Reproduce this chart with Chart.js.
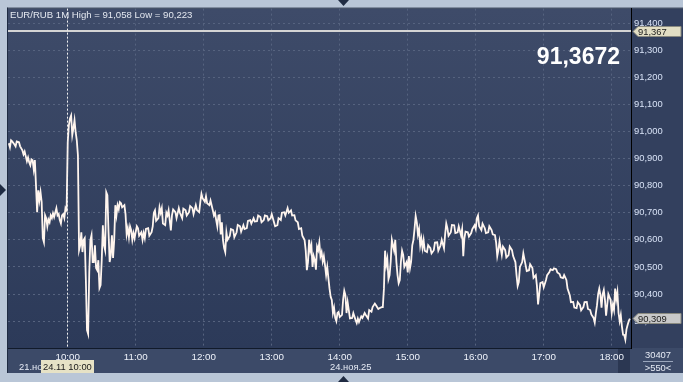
<!DOCTYPE html>
<html><head><meta charset="utf-8">
<script src="https://cdn.jsdelivr.net/npm/chart.js@4/dist/chart.umd.min.js"></script>
<style>html,body{margin:0;padding:0;background:#b9c6d7;overflow:hidden}#wrap{position:relative;width:683px;height:382px}</style>
</head><body><div id="wrap"><canvas id="c" width="683" height="382"></canvas></div>
<script>
const times = [
"09:08","09:09","09:10","09:11","09:13","09:14","09:15","09:17","09:18","09:20","09:21","09:22","09:23","09:24","09:25","09:26","09:27","09:28","09:29","09:30","09:31","09:32","09:33","09:34","09:35","09:36","09:37","09:38","09:39","09:40","09:41","09:42","09:43","09:44","09:45","09:46","09:47","09:48","09:50","09:51","09:52","09:53","09:54","09:55","09:56","09:57","09:58","09:59",
"10:00","10:01","10:02","10:03","10:04","10:05","10:06","10:07","10:08","10:09","10:10","10:11","10:12","10:13","10:14","10:15","10:16","10:17","10:18","10:19","10:20","10:21","10:22","10:23","10:24","10:25","10:26","10:27","10:28","10:29","10:30","10:31","10:32","10:33","10:34","10:35","10:36","10:37","10:38","10:39","10:40","10:41","10:42","10:43","10:44","10:45","10:46","10:47","10:48","10:50","10:51","10:52","10:53","10:54","10:55","10:56","10:57","10:58","10:59",
"11:00","11:01","11:02","11:03","11:05","11:06","11:07","11:08","11:09","11:11","11:12","11:14","11:15","11:16","11:17","11:18","11:20","11:21","11:22","11:23","11:24","11:26","11:27","11:28","11:29","11:30","11:31","11:32","11:33","11:35","11:36","11:38","11:39","11:41","11:42","11:44","11:45","11:47","11:48","11:50","11:51","11:53","11:54","11:56","11:57","11:58","11:59",
"12:01","12:02","12:03","12:05","12:06","12:08","12:09","12:10","12:11","12:12","12:13","12:14","12:15","12:16","12:17","12:18","12:19","12:20","12:21","12:23","12:24","12:26","12:27","12:29","12:30","12:32","12:33","12:35","12:36","12:38","12:39","12:41","12:42","12:44","12:45","12:47","12:48","12:50","12:51","12:53","12:54","12:56","12:57","12:59",
"13:00","13:02","13:03","13:05","13:06","13:08","13:09","13:11","13:12","13:14","13:15","13:17","13:18","13:20","13:21","13:23","13:24","13:26","13:27","13:29","13:30","13:31","13:32","13:33","13:34","13:35","13:36","13:37","13:38","13:39","13:40","13:41","13:42","13:43","13:44","13:45","13:46","13:47","13:48","13:49","13:50","13:51","13:52","13:53","13:54","13:55","13:56","13:57","13:58","13:59",
"14:00","14:02","14:03","14:04","14:05","14:06","14:07","14:08","14:09","14:11","14:12","14:14","14:15","14:16","14:17","14:19","14:20","14:22","14:23","14:25","14:26","14:28","14:29","14:31","14:32","14:34","14:35","14:37","14:38","14:39","14:40","14:41","14:42","14:43","14:44","14:45","14:46","14:47","14:48","14:49","14:50","14:51","14:52","14:53","14:54","14:55","14:56","14:57","14:59",
"15:00","15:01","15:02","15:03","15:04","15:05","15:06","15:07","15:08","15:09","15:10","15:11","15:12","15:13","15:14","15:15","15:17","15:18","15:20","15:21","15:23","15:24","15:26","15:27","15:29","15:30","15:32","15:33","15:34","15:35","15:36","15:38","15:39","15:41","15:42","15:44","15:45","15:47","15:48","15:49","15:50","15:51","15:53","15:54","15:56","15:57","15:59",
"16:00","16:01","16:02","16:03","16:05","16:06","16:08","16:09","16:11","16:12","16:14","16:15","16:17","16:18","16:19","16:20","16:21","16:23","16:24","16:26","16:27","16:29","16:30","16:32","16:33","16:35","16:36","16:37","16:38","16:39","16:41","16:42","16:44","16:45","16:47","16:48","16:50","16:51","16:53","16:54","16:55","16:56","16:57","16:59",
"17:00","17:02","17:03","17:05","17:06","17:08","17:09","17:11","17:12","17:14","17:15","17:17","17:18","17:20","17:21","17:23","17:24","17:26","17:27","17:29","17:30","17:32","17:33","17:35","17:36","17:38","17:39","17:41","17:42","17:44","17:45","17:46","17:47","17:48","17:49","17:50","17:51","17:52","17:53","17:54","17:55","17:56","17:57","17:59",
"18:00","18:01","18:02","18:03","18:04","18:05","18:06","18:07","18:08","18:09","18:10","18:11","18:12","18:13","18:14","18:15","18:16"];
const prices = [
90.956,90.941,90.967,90.963,90.952,90.945,90.963,90.960,90.945,90.930,90.915,90.926,90.908,90.890,90.904,90.886,90.875,90.897,90.894,90.860,90.894,90.801,90.702,90.783,90.746,90.776,90.739,90.606,90.591,90.691,90.680,90.650,90.675,90.665,90.690,90.680,90.698,90.684,90.717,90.690,90.695,90.673,90.660,90.690,90.695,90.680,90.717,90.709,
90.960,91.022,91.048,91.059,90.986,91.011,91.041,90.997,90.967,90.912,90.562,90.580,90.628,90.555,90.599,90.606,90.452,90.267,90.253,90.481,90.599,90.617,90.518,90.518,90.580,90.496,90.488,90.525,90.422,90.433,90.525,90.654,90.580,90.562,90.776,90.765,90.628,90.518,90.544,90.617,90.533,90.599,90.728,90.691,90.728,90.713,90.739,90.735,90.720,90.728,90.695,90.620,90.643,90.610,90.650,90.636,90.600,90.625,90.606,
90.630,90.650,90.643,90.615,90.628,90.600,90.625,90.606,90.640,90.643,90.615,90.628,90.650,90.700,90.709,90.670,90.680,90.720,90.700,90.717,90.660,90.654,90.700,90.690,90.709,90.672,90.635,90.691,90.712,90.702,90.680,90.717,90.700,90.680,90.715,90.709,90.690,90.702,90.725,90.717,90.695,90.728,90.710,90.702,90.740,90.770,90.754,
90.740,90.761,90.735,90.728,90.745,90.709,90.690,90.700,90.673,90.650,90.690,90.691,90.620,90.665,90.599,90.570,90.555,90.628,90.600,90.614,90.640,90.636,90.610,90.628,90.655,90.650,90.630,90.654,90.640,90.643,90.670,90.673,90.660,90.680,90.668,90.669,90.690,90.684,90.665,90.673,90.690,90.687,90.672,90.680,
90.695,90.665,90.650,90.654,90.680,90.673,90.700,90.702,90.690,90.717,90.700,90.709,90.690,90.691,90.672,90.665,90.640,90.643,90.615,90.599,90.560,90.488,90.518,90.600,90.560,90.580,90.500,90.540,90.525,90.490,90.575,90.562,90.590,90.540,90.555,90.520,90.540,90.507,90.470,90.500,90.459,90.420,90.390,90.378,90.330,90.350,90.312,90.300,90.330,90.334,
90.315,90.323,90.380,90.412,90.396,90.330,90.370,90.341,90.310,90.312,90.330,90.304,90.293,90.310,90.297,90.318,90.312,90.330,90.323,90.310,90.341,90.335,90.352,90.365,90.359,90.345,90.348,90.352,90.352,90.420,90.560,90.507,90.530,90.455,90.470,90.520,90.600,90.580,90.560,90.600,90.518,90.470,90.440,90.452,90.520,90.560,90.544,90.500,90.518,
90.480,90.540,90.496,90.520,90.580,90.599,90.640,90.688,90.665,90.620,90.640,90.580,90.605,90.570,90.599,90.560,90.555,90.580,90.569,90.550,90.562,90.590,90.591,90.560,90.580,90.600,90.569,90.620,90.660,90.643,90.615,90.628,90.655,90.654,90.625,90.628,90.650,90.617,90.640,90.540,90.606,90.630,90.628,90.612,90.625,90.640,90.654,
90.640,90.680,90.690,90.650,90.636,90.660,90.643,90.625,90.628,90.650,90.636,90.620,90.617,90.590,90.540,90.562,90.595,90.544,90.575,90.562,90.535,90.544,90.575,90.562,90.540,90.518,90.470,90.430,90.444,90.500,90.518,90.550,90.507,90.485,90.488,90.510,90.496,90.460,90.470,90.430,90.362,90.400,90.440,90.444,
90.425,90.452,90.470,90.481,90.492,90.488,90.495,90.492,90.480,90.474,90.462,90.459,90.470,90.452,90.420,90.396,90.370,90.371,90.350,90.348,90.370,90.359,90.340,90.352,90.370,90.371,90.345,90.341,90.325,90.312,90.295,90.330,90.359,90.400,90.420,90.396,90.350,90.400,90.415,90.380,90.320,90.359,90.400,90.378,
90.330,90.360,90.341,90.420,90.380,90.407,90.330,90.300,90.323,90.280,90.250,90.249,90.232,90.270,90.286,90.300,90.309];
const hourTicks = ["10:00","11:00","12:00","13:00","14:00","15:00","16:00","17:00","18:00"];
const priceTicks = [90.3,90.4,90.5,90.6,90.7,90.8,90.9,91.0,91.1,91.2,91.3,91.4];
const titleText = "EUR/RUB 1M High = 91,058 Low = 90,223";
const bidPrice = 91.367;
const bigPrice = "91,3672";
const lastClose = 90.309;
const cursorTime = "10:00";
const dateLeft = "21.но";
const cursorLabel = "24.11 10:00";
const dateMid = "24.ноя.25";
const volumeText = "30407";
const barsText = ">550<";

const toMin = s => (+s.slice(0,2))*60 + (+s.slice(3));
const fmtMin = v => String(Math.floor(v/60)).padStart(2,'0') + ':' + String(Math.round(v%60)).padStart(2,'0');
const fmtP = v => v.toFixed(3).replace('.', ',');
const F = '"Liberation Sans", Arial, sans-serif';
const FS = 9.4;

const bg = {
  id: 'bg',
  beforeDraw(chart) {
    const {ctx, chartArea: a} = chart;
    ctx.save();
    ctx.fillStyle = '#b9c6d7';
    ctx.fillRect(0, 0, 683, 382);
    const g = ctx.createLinearGradient(0, a.top, 0, a.bottom);
    g.addColorStop(0, '#3e4b69');
    g.addColorStop(1, '#2c3a59');
    ctx.fillStyle = g;
    ctx.fillRect(a.left, a.top, a.right - a.left, a.bottom - a.top);
    ctx.fillStyle = '#33405e';
    ctx.fillRect(a.right, a.top, 683 - a.right, a.bottom - a.top);
    ctx.fillStyle = '#3c4a68';
    ctx.fillRect(a.left, a.bottom, 683 - a.left, 373 - a.bottom);
    ctx.fillStyle = '#2b3752';
    ctx.fillRect(618, a.bottom, 12, 373 - a.bottom);
    ctx.fillStyle = '#1f2b42';
    ctx.fillRect(a.left - 1, a.top - 1, 683 - a.left + 1, 1);
    ctx.fillRect(a.left - 1, a.top - 1, 1, 373 - a.top + 1);
    ctx.restore();
  },
  afterDatasetsDraw(chart) {
    const {ctx, chartArea: a, scales: {x, y}} = chart;
    ctx.save();
    const yb = Math.round(y.getPixelForValue(bidPrice)) - 1;
    ctx.strokeStyle = '#d4d4d4';
    ctx.lineWidth = 2;
    ctx.beginPath(); ctx.moveTo(a.left, yb); ctx.lineTo(a.right, yb); ctx.stroke();
    const xc = Math.round(x.getPixelForValue(toMin(cursorTime))) - 0.5;
    ctx.strokeStyle = '#f0f0f0';
    ctx.lineWidth = 1;
    ctx.setLineDash([2, 2]);
    ctx.beginPath(); ctx.moveTo(xc, a.top); ctx.lineTo(xc, a.bottom); ctx.stroke();
    ctx.setLineDash([]);
    ctx.font = (FS + 0.2) + 'px ' + F;
    ctx.fillStyle = '#e4e8f0';
    ctx.textBaseline = 'middle';
    ctx.textAlign = 'left';
    ctx.fillText(titleText, 10, 15);
    ctx.font = 'bold 23px ' + F;
    ctx.fillStyle = '#ffffff';
    ctx.textAlign = 'right';
    ctx.fillText(bigPrice, 620, 58);
    ctx.restore();
  },
  afterDraw(chart) {
    const {ctx, scales: {y}} = chart;
    ctx.save();
    const tag = (val, fill) => {
      const yy = Math.round(y.getPixelForValue(val)) - 0.5;
      ctx.fillStyle = fill;
      ctx.beginPath();
      ctx.moveTo(633, yy);
      ctx.lineTo(638, yy - 5);
      ctx.lineTo(681, yy - 5);
      ctx.lineTo(681, yy + 5);
      ctx.lineTo(638, yy + 5);
      ctx.closePath();
      ctx.fill();
      ctx.strokeStyle = '#8a8a80';
      ctx.lineWidth = 1;
      ctx.stroke();
      ctx.fillStyle = '#1a1a1a';
      ctx.font = FS + 'px ' + F;
      ctx.textAlign = 'left';
      ctx.textBaseline = 'middle';
      ctx.fillText(fmtP(val), 638, yy + 0.5);
    };
    tag(bidPrice, '#e2dec4');
    tag(lastClose, '#c9c9c9');
    ctx.font = FS + 'px ' + F;
    ctx.textBaseline = 'middle';
    ctx.textAlign = 'left';
    ctx.fillStyle = '#e6ebf5';
    ctx.fillText(dateLeft, 19, 367);
    ctx.fillText(dateMid, 330, 367);
    ctx.fillStyle = '#e6e2c6';
    ctx.fillRect(41, 360, 53, 13);
    ctx.fillStyle = '#1a1a1a';
    ctx.fillText(cursorLabel, 43, 367);
    ctx.textAlign = 'center';
    ctx.fillStyle = '#e6ebf5';
    ctx.fillText(volumeText, 658, 355);
    ctx.fillText(barsText, 658, 368);
    ctx.fillStyle = '#9aa6bc';
    ctx.fillRect(643, 361, 30, 1);
    ctx.fillStyle = '#1f2b42';
    ctx.beginPath(); ctx.moveTo(0, 184); ctx.lineTo(6, 190); ctx.lineTo(0, 196); ctx.closePath(); ctx.fill();
    ctx.beginPath(); ctx.moveTo(338, 0); ctx.lineTo(349, 0); ctx.lineTo(343.5, 6); ctx.closePath(); ctx.fill();
    ctx.beginPath(); ctx.moveTo(338, 382); ctx.lineTo(349, 382); ctx.lineTo(343.5, 376); ctx.closePath(); ctx.fill();
    ctx.restore();
  }
};

new Chart(document.getElementById('c'), {
  type: 'line',
  data: {
    datasets: [{
      data: times.map((t, i) => ({x: toMin(t), y: prices[i]})),
      borderColor: '#fff5ee',
      borderWidth: 1.8,
      pointRadius: 0,
      tension: 0,
      fill: false
    }]
  },
  options: {
    responsive: false,
    animation: false,
    devicePixelRatio: 1,
    layout: {padding: {left: 8, top: 8, right: 0, bottom: 0}},
    plugins: {legend: {display: false}, tooltip: {enabled: false}},
    scales: {
      x: {
        type: 'linear',
        min: 547.3,
        max: 1097,
        afterFit: s => { s.height = 34; },
        afterBuildTicks: s => { s.ticks = hourTicks.map(h => ({value: toMin(h)})); },
        ticks: {callback: v => fmtMin(v), color: '#eef2fa', font: {family: F, size: FS + 0.4}, padding: 3, maxRotation: 0, autoSkip: false},
        grid: {color: '#56637f', drawTicks: false, lineWidth: 1},
        border: {color: '#111a2a', width: 1, dash: [2, 3]}
      },
      y: {
        position: 'right',
        min: 90.201,
        max: 91.453,
        afterFit: s => { s.width = 52; },
        afterBuildTicks: s => { s.ticks = priceTicks.map(v => ({value: v})); },
        ticks: {callback: v => fmtP(v), color: '#d8e2f6', font: {family: F, size: FS}, padding: 3, autoSkip: false},
        grid: {color: '#56637f', drawTicks: false, lineWidth: 1},
        border: {color: '#000000', width: 1, dash: [2, 3]}
      }
    }
  },
  plugins: [bg]
});
</script></body></html>
